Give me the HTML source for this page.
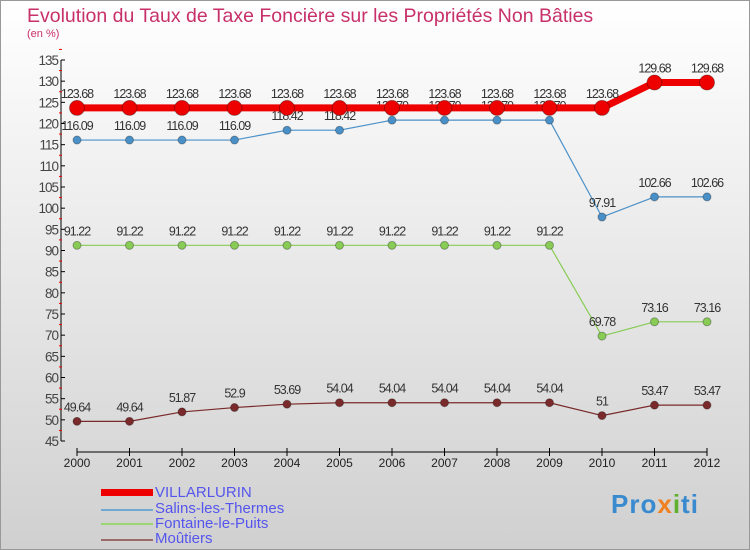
<!DOCTYPE html>
<html><head><meta charset="utf-8"><style>
body{margin:0}
#wrap{position:relative;width:748px;height:548px;border:1px solid #999;background:linear-gradient(#ffffff,#d0d0d0);overflow:hidden;font-family:"Liberation Sans",sans-serif}
#title{position:absolute;left:26px;top:4px;font-size:19.5px;color:#c8306a}
#unit{position:absolute;left:26px;top:27px;font-size:11px;color:#c8306a}
svg{position:absolute;left:0;top:0}
.lg{position:absolute;left:154px;font-size:15px;color:#5555ee;line-height:15px}
</style></head><body>
<div id="wrap">
<div id="title">Evolution du Taux de Taxe Foncière sur les Propriétés Non Bâties</div>
<div id="unit">(en %)</div>
<svg id="svg" width="750" height="550"></svg>
<div>
<div style="position:absolute;left:100px;top:488px;width:52px;height:7px;background:#e00"></div>
<div class="lg" style="top:484px">VILLARLURIN</div>
<div style="position:absolute;left:100px;top:508px;width:52px;height:2px;background:#6fa8d0"></div>
<div class="lg" style="top:500px">Salins-les-Thermes</div>
<div style="position:absolute;left:100px;top:522px;width:52px;height:2px;background:#9cd670"></div>
<div class="lg" style="top:515px">Fontaine-le-Puits</div>
<div style="position:absolute;left:100px;top:538px;width:52px;height:2px;background:#9a6a6a"></div>
<div class="lg" style="top:530px">Moûtiers</div>
</div>
<div style="position:absolute;left:610px;top:488px;font-size:26px;font-weight:bold;color:#3a8ad0;letter-spacing:1px">Pro<span style="color:#f08020">x</span><span style="color:#60b030">i</span>ti</div>
</div>
<script>
const years=[2000,2001,2002,2003,2004,2005,2006,2007,2008,2009,2010,2011,2012];
const villarlurin=[123.68,123.68,123.68,123.68,123.68,123.68,123.68,123.68,123.68,123.68,123.68,129.68,129.68];
const salins=[116.09,116.09,116.09,116.09,118.42,118.42,120.79,120.79,120.79,120.79,97.91,102.66,102.66];
const fontaine=[91.22,91.22,91.22,91.22,91.22,91.22,91.22,91.22,91.22,91.22,69.78,73.16,73.16];
const moutiers=[49.64,49.64,51.87,52.9,53.69,54.04,54.04,54.04,54.04,54.04,51,53.47,53.47];
const yTicks=[45,50,55,60,65,70,75,80,85,90,95,100,105,110,115,120,125,130,135];
const svg=document.getElementById('svg');const NS='http://www.w3.org/2000/svg';
const X=i=>76+i*52.5;const Y=v=>440-(v-45)*381/90;
function mk(t,a,p){const e=document.createElementNS(NS,t);for(const k in a)e.setAttribute(k,a[k]);(p||svg).appendChild(e);return e;}
let ax=mk('line',{x1:60,y1:Y(135),x2:60,y2:Y(45),stroke:'#000'});

yTicks.forEach(v=>{mk('line',{x1:60,x2:64,y1:Y(v),y2:Y(v),stroke:'#000'});
mk('line',{x1:58,x2:61,y1:Y(v+2.5),y2:Y(v+2.5),stroke:'#e00'});
const t=mk('text',{x:57,y:Y(v)+5,'text-anchor':'end','font-size':13.5,fill:'#444','letter-spacing':'-1'});t.textContent=v;
});
let xa=mk('line',{x1:X(0),y1:451,x2:X(12),y2:451,stroke:'#000'});

years.forEach((y,i)=>{mk('line',{x1:X(i),x2:X(i),y1:447,y2:455,stroke:'#000'});
const t=mk('text',{x:X(i),y:466,'text-anchor':'middle','font-size':12,fill:'#222'});t.textContent=y;
});
function series(vals,col,w,r,name){const g=mk('g',{});

mk('polyline',{points:vals.map((v,i)=>X(i)+','+Y(v)).join(' '),fill:'none',stroke:col,'stroke-width':w,'stroke-linejoin':'round'},g);
vals.forEach((v,i)=>{const c=mk('circle',{cx:X(i),cy:Y(v),r:r,fill:col,stroke:'rgba(0,0,0,0.3)'},g);

const t=mk('text',{x:X(i),y:Y(v)-10,'text-anchor':'middle','font-size':12.5,fill:'#333','letter-spacing':'-1'},g);t.textContent=v;});}
series(moutiers,'#7a2a2a',1.2,4,'moutiers');
series(fontaine,'#88cc55',1.2,4,'fontaine');
series(salins,'#4a90c8',1.2,4,'salins');
series(villarlurin,'#ee0000',7,7.5,'villarlurin');
</script>
</body></html>
